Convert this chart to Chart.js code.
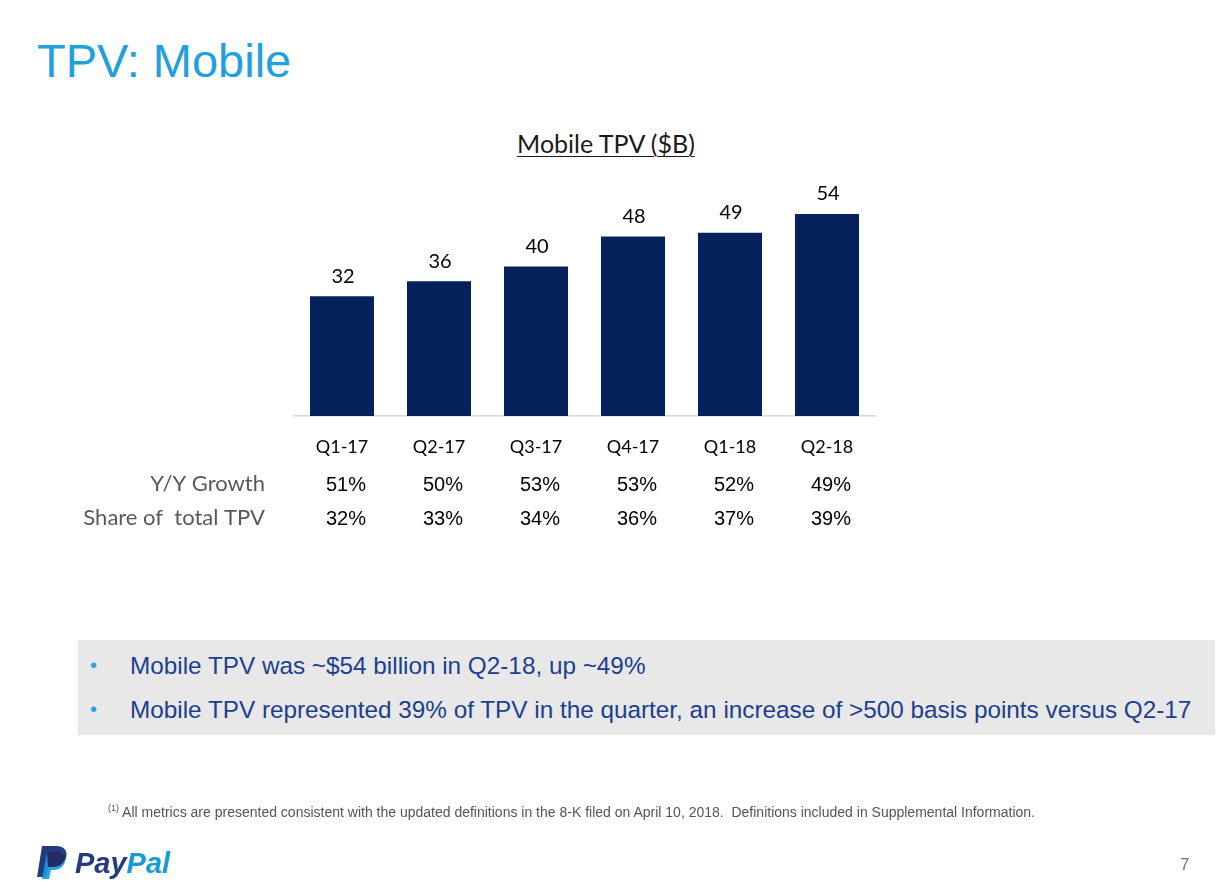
<!DOCTYPE html>
<html lang="en">
<head>
<meta charset="utf-8">
<title>TPV: Mobile</title>
<script src="https://cdn.jsdelivr.net/npm/chart.js@4.4.1/dist/chart.umd.min.js"></script>
<style>
  html, body { margin: 0; padding: 0; background: #fff; }
  body { width: 1224px; height: 895px; position: relative; overflow: hidden; font-family: "Liberation Sans", Arial, sans-serif; }
  #wrap { position: absolute; left: 0; top: 0; width: 1224px; height: 895px; }
  .title { position: absolute; left: 37px; top: 33px; font-size: 47px; color: #22a0de; }
  .ctitle { position: absolute; left: 0; width: 1212px; top: 128px; text-align: center; font-family: Lato, sans-serif; font-size: 25px; color: #1a1a1a; text-decoration: underline; text-underline-offset: 3px; text-decoration-thickness: 1px; }
  .box { position: absolute; left: 78px; top: 640px; width: 1137px; height: 95px; background: #e8e8e8; }
  .box div { position: absolute; left: 52px; font-size: 24.3px; color: #1c3f91; white-space: nowrap; }
  .box div::before { content: "\2022"; position: absolute; left: -40px; color: #2aa3e2; font-size: 20px; top: 2px; }
  .foot { position: absolute; left: 108px; top: 803px; font-size: 14px; color: #555; white-space: nowrap; }
  .foot sup { font-size: 9px; }
  .logo { position: absolute; left: 36px; top: 844px; }
  .page { position: absolute; left: 1180px; top: 855px; font-size: 17px; color: #777; }
</style>
</head>
<body>
<div class="title">TPV: Mobile</div>
<div class="ctitle">Mobile TPV ($B)</div>
<div id="wrap"><canvas id="tpv"></canvas></div>
<div class="box">
  <div style="top:12px">Mobile TPV was ~$54 billion in Q2-18, up ~49%</div>
  <div style="top:56px">Mobile TPV represented 39% of TPV in the quarter, an increase of &gt;500 basis points versus Q2-17</div>
</div>
<div class="foot"><sup>(1)</sup> All metrics are presented consistent with the updated definitions in the 8-K filed on April 10, 2018.&nbsp; Definitions included in Supplemental Information.</div>
<div class="logo">
  <svg width="150" height="36" viewBox="0 0 150 36">
    <path d="M6 2 H20 C29 2 32 8 30 14 C28 20 23 23 16 23 H12 L10 33 H1 Z" fill="#253b80"/>
    <path d="M11 8 H22 C29 8 31 13 29 18 C27 24 22 26 17 26 H15 L13 35 H6 Z" fill="#179bd7" opacity="0.9"/>
    <path d="M11 8 H22 C26 8 29 10 29.5 13 C28 20 23 23 16 23 H12 Z" fill="#222d65"/>
    <text x="39" y="29" font-family="Liberation Sans, Arial" font-weight="bold" font-style="italic" font-size="29" fill="#253b80">Pay<tspan fill="#179bd7">Pal</tspan></text>
  </svg>
</div>
<div class="page">7</div>
<script>
const quarters = ['Q1-17', 'Q2-17', 'Q3-17', 'Q4-17', 'Q1-18', 'Q2-18'];
const mobileTpv = [32, 36, 40, 48, 49, 54];
const yoyGrowth = [51, 50, 53, 53, 52, 49];
const shareOfTpv = [32, 33, 34, 36, 37, 39];
const rowLabels = ['Y/Y Growth', 'Share of  total TPV'];

// value labels above the bars, plus the two rows of percentages under the axis
const tablePlugin = {
  id: 'tableRows',
  afterDatasetsDraw(chart) {
    const ctx = chart.ctx;
    const meta = chart.getDatasetMeta(0);
    const x = chart.scales.x;
    ctx.save();
    ctx.textAlign = 'center';
    ctx.textBaseline = 'middle';
    ctx.fillStyle = '#000';
    ctx.font = '20px Lato, sans-serif';
    meta.data.forEach((bar, i) => {
      ctx.fillText(String(mobileTpv[i]), bar.x + 1, bar.y - 20);
    });

    const rows = [yoyGrowth, shareOfTpv];
    const rowY = [485, 519];
    rows.forEach((vals, r) => {
      ctx.textAlign = 'right';
      ctx.fillStyle = '#595959';
      ctx.font = '22px Lato, sans-serif';
      ctx.fillText(rowLabels[r], 265, rowY[r] - 1);
      ctx.textAlign = 'center';
      ctx.fillStyle = '#000';
      ctx.font = '20px "Liberation Sans", Arial, sans-serif';
      vals.forEach((v, i) => {
        ctx.fillText(v + '%', x.getPixelForValue(i) + 4, rowY[r]);
      });
    });
    ctx.restore();
  }
};

new Chart(document.getElementById('tpv'), {
  type: 'bar',
  data: {
    labels: quarters,
    datasets: [{
      data: mobileTpv,
      backgroundColor: '#05225c',
      barPercentage: 0.66,
      categoryPercentage: 1
    }]
  },
  options: {
    responsive: true,
    maintainAspectRatio: false,
    animation: false,
    layout: { padding: { left: 293.5, right: 348.5, top: 191.6, bottom: 419 } },
    plugins: { legend: { display: false }, tooltip: { enabled: false } },
    scales: {
      x: {
        grid: { display: false },
        border: { display: true, color: '#d9d9d9', width: 1.5 },
        ticks: { color: '#000', font: { family: 'Lato', size: 18 }, padding: 12 },
        afterFit(s) { s.height = 60; }
      },
      y: { display: false, min: 0, max: 60 }
    }
  },
  plugins: [tablePlugin]
});
</script>
</body>
</html>
